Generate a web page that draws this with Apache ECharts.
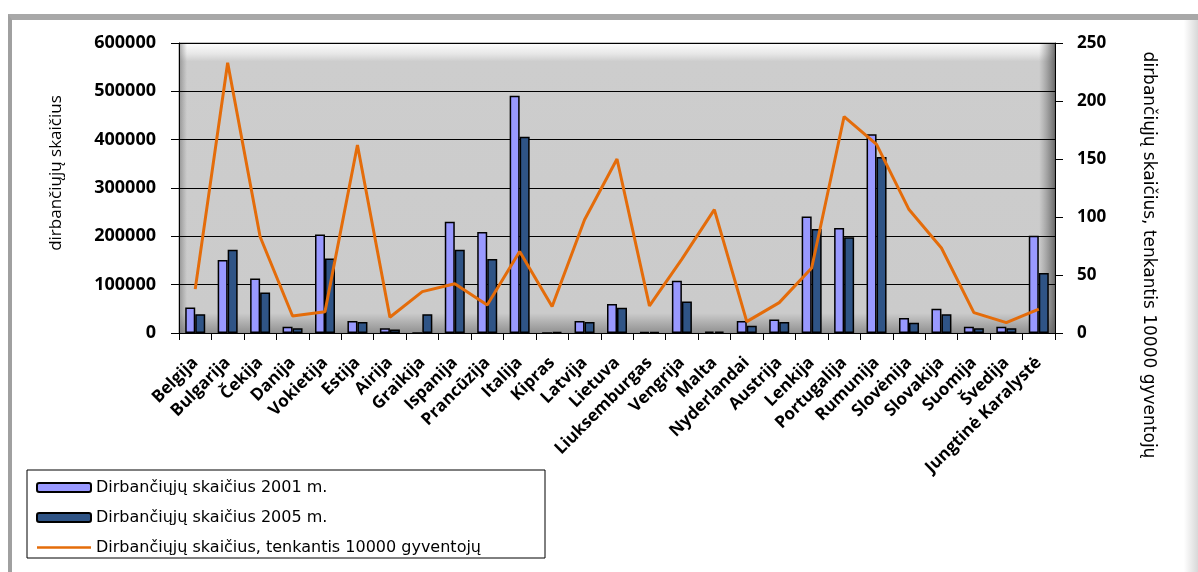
<!DOCTYPE html>
<html>
<head>
<meta charset="utf-8">
<script src="https://cdn.jsdelivr.net/npm/echarts@6/dist/echarts.min.js"></script>
<style>
  html, body { margin: 0; padding: 0; background: #fff; }
  #frame {
    position: absolute; left: 8px; top: 14px; width: 1190px; height: 558px;
    border-top: 6px solid #a8a8a8; border-left: 4px solid #a0a0a0;
    box-sizing: border-box;
    background: linear-gradient(to right, rgba(255,255,255,0) 98.8%, #d8d8d8 100%);
  }
  #chart { position: absolute; left: 0; top: 0; width: 1198px; height: 572px; }
</style>
</head>
<body>
<div id="frame"></div>
<div id="chart"></div>
<script>
// categories (EU countries)
const categories = [
  'Belgija', 'Bulgarija', 'Čekija', 'Danija', 'Vokietija', 'Estija', 'Airija',
  'Graikija', 'Ispanija', 'Prancūzija', 'Italija', 'Kipras', 'Latvija', 'Lietuva',
  'Liuksemburgas', 'Vengrija', 'Malta', 'Nyderlandai', 'Austrija', 'Lenkija',
  'Portugalija', 'Rumunija', 'Slovėnija', 'Slovakija', 'Suomija', 'Švedija',
  'Jungtinė Karalystė'
];

// employees 2001
const workers2001 = [
  53000, 151000, 113000, 13000, 204000, 25000, 10000,
  0, 230000, 209000, 491000, 0, 25000, 60000,
  2000, 108000, 3000, 25000, 28000, 241000,
  217000, 411000, 31000, 50000, 13000, 13000,
  201000
];

// employees 2005
const workers2005 = [
  39000, 172000, 84000, 10000, 154000, 23000, 7500,
  39000, 172000, 153000, 406000, 2500, 23000, 52000,
  2000, 65000, 3000, 15000, 23000, 215000,
  198000, 364000, 21000, 39000, 10000, 10000,
  124000
];

// employees per 10000 inhabitants (right axis)
const per10000 = [
  37.8, 233, 83, 14.7, 18.4, 162, 13.6,
  35.7, 42.4, 24.2, 70.3, 22.8, 97.7, 150,
  23.4, 63.7, 106.4, 9.8, 26.2, 56,
  186.6, 162.6, 106.4, 73.3, 17.6, 8.9,
  20.5
];

const seriesNames = [
  'Dirbančiųjų skaičius 2001 m.',
  'Dirbančiųjų skaičius 2005 m.',
  'Dirbančiųjų skaičius, tenkantis 10000 gyventojų'
];

const FONT = '"Open Sans", sans-serif';
const WIDE = '"DejaVu Sans", sans-serif';
const G = { left: 179, right: 143, top: 43, bottom: 239 };
const plotW = 1198 - G.left - G.right;
const plotH = 572 - G.top - G.bottom;

const chart = echarts.init(document.getElementById('chart'));

chart.setOption({
  animation: false,
  textStyle: { fontFamily: FONT, color: '#000' },
  grid: {
    left: G.left, right: G.right, top: G.top, bottom: G.bottom,
    show: true,
    borderWidth: 1,
    borderColor: '#8a8a8a',
    backgroundColor: new echarts.graphic.LinearGradient(0, 0, 0, 1, [
      { offset: 0, color: '#ffffff' },
      { offset: 0.04, color: '#e6e6e6' },
      { offset: 0.065, color: '#cdcdcd' },
      { offset: 0.93, color: '#cbcbcb' },
      { offset: 1, color: '#8f8f8f' }
    ])
  },
  graphic: [
    {
      type: 'rect', z: 0, silent: true,
      shape: { x: G.left + plotW - 16, y: G.top, width: 16, height: plotH },
      style: {
        fill: new echarts.graphic.LinearGradient(0, 0, 1, 0, [
          { offset: 0, color: 'rgba(120,120,120,0)' },
          { offset: 1, color: 'rgba(90,90,90,0.85)' }
        ])
      }
    },
    {
      type: 'rect', z: 0, silent: true,
      shape: { x: G.left, y: G.top, width: 8, height: plotH },
      style: {
        fill: new echarts.graphic.LinearGradient(0, 0, 1, 0, [
          { offset: 0, color: 'rgba(110,110,110,0.6)' },
          { offset: 1, color: 'rgba(120,120,120,0)' }
        ])
      }
    },
    {
      // left axis title
      type: 'text', silent: true,
      x: 56, y: 173, rotation: Math.PI / 2,
      style: {
        text: 'dirbančiųjų skaičius',
        font: '17px ' + FONT,
        fill: '#000',
        align: 'center',
        verticalAlign: 'middle'
      }
    },
    {
      // right axis title
      type: 'text', silent: true,
      x: 1148, y: 255, rotation: -Math.PI / 2,
      style: {
        text: 'dirbančiųjų skaičius, tenkantis 10000 gyventojų',
        font: '17px ' + WIDE,
        fill: '#000',
        align: 'center',
        verticalAlign: 'middle'
      }
    }
  ],
  legend: {
    orient: 'vertical',
    left: 27, top: 470,
    padding: [8, 64, 1, 9],
    backgroundColor: '#fff',
    borderColor: '#000',
    borderWidth: 1,
    itemWidth: 54,
    itemHeight: 9,
    itemGap: 11,
    textStyle: { fontFamily: WIDE, fontSize: 16, color: '#000', lineHeight: 19 },
    data: [
      { name: seriesNames[0] },
      { name: seriesNames[1] },
      { name: seriesNames[2], icon: 'path://M0,0H54V2.5H0Z' }
    ]
  },
  xAxis: {
    type: 'category',
    data: categories,
    boundaryGap: true,
    axisLine: { lineStyle: { color: '#000', width: 1 } },
    axisTick: { show: true, length: 7, alignWithLabel: false, lineStyle: { color: '#000' } },
    axisLabel: {
      interval: 0, rotate: 45, margin: 27,
      fontFamily: FONT, fontSize: 17, fontWeight: 'bold', color: '#000'
    }
  },
  yAxis: [
    {
      type: 'value', min: 0, max: 600000, interval: 100000,
      axisLine: { show: true, lineStyle: { color: '#000' } },
      axisTick: { show: true, length: 8, lineStyle: { color: '#000' } },
      axisLabel: {
        margin: 23, fontFamily: FONT, fontSize: 18, fontWeight: 'bold', color: '#000',
        formatter: (v) => String(v)
      },
      splitLine: { show: true, lineStyle: { color: '#000', width: 1 } }
    },
    {
      type: 'value', min: 0, max: 250, interval: 50, position: 'right',
      axisLine: { show: true, lineStyle: { color: '#000' } },
      axisTick: { show: true, length: 8, lineStyle: { color: '#000' } },
      axisLabel: { margin: 22, fontFamily: FONT, fontSize: 17, fontWeight: 'bold', color: '#000' },
      splitLine: { show: false }
    }
  ],
  series: [
    {
      name: seriesNames[0], type: 'bar', yAxisIndex: 0,
      data: workers2001,
      barWidth: 10, barGap: '0%',
      itemStyle: { color: '#9999ff', borderColor: '#000', borderWidth: 1.5 }
    },
    {
      name: seriesNames[1], type: 'bar', yAxisIndex: 0,
      data: workers2005,
      barWidth: 10, barGap: '0%',
      itemStyle: { color: '#2f5486', borderColor: '#000', borderWidth: 1.5 }
    },
    {
      name: seriesNames[2], type: 'line', yAxisIndex: 1,
      data: per10000,
      symbol: 'none',
      z: 5,
      lineStyle: { color: '#e46c0a', width: 3 },
      itemStyle: { color: '#e46c0a' }
    }
  ]
});
</script>
</body>
</html>
